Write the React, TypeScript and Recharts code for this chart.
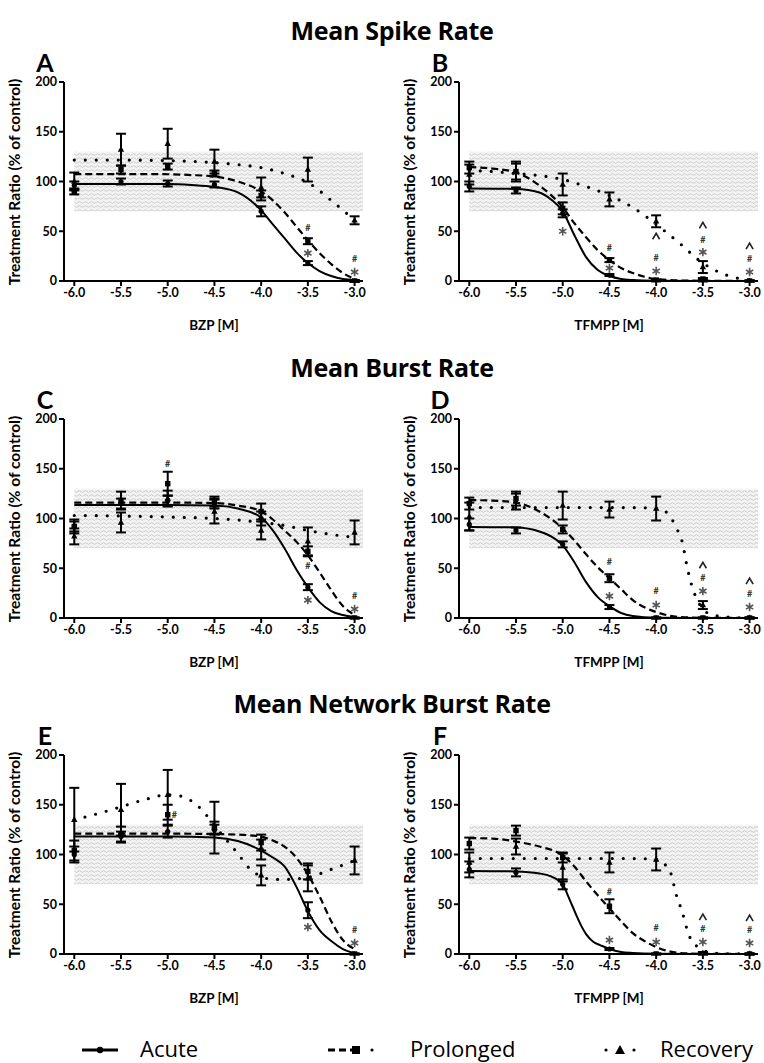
import React from 'react';
import { ComposedChart, Line, Scatter, XAxis, YAxis, ErrorBar, ReferenceArea } from 'recharts';

const doses = [-6, -5.5, -5, -4.5, -4, -3.5, -3];
const xTicks = [-6, -5.5, -5, -4.5, -4, -3.5, -3];
const yTicks = [0, 50, 100, 150, 200];
const titles = ['Mean Spike Rate', 'Mean Burst Rate', 'Mean Network Burst Rate'];
const letters = ['A', 'B', 'C', 'D', 'E', 'F'];
const xLabels = ['BZP [M]', 'TFMPP [M]'];
const legendNames = ['Acute', 'Prolonged', 'Recovery'];

// ---------- Panel A (BZP, spike rate) ----------
const aAcuteMean = [96, 100, 98, 97, 70, 18, 0];
const aAcuteSem = [4, 3, 3, 3, 5, 2, 1];
const aProlMean = [90, 112, 115, 108, 86, 40, 0];
const aProlSem = [3, 4, 3, 3, 5, 3, 1];
const aRecMean = [100, 132, 138, 120, 94, 112, 61];
const aRecSem = [9, 16, 15, 12, 10, 12, 4];
const aFitX = [-6, -5.5, -5, -4.75, -4.5, -4.25, -4, -3.875, -3.75, -3.625, -3.5, -3.375, -3.25, -3.125, -3];
const aAcuteFit = [97.5, 97.5, 97.4, 96.5, 94.5, 89, 71, 57, 43, 29, 18, 10, 5, 2, 1];
const aProlFit = [107.5, 107.5, 107.3, 106.5, 105, 100, 90, 81, 69, 55, 41, 28, 17, 8, 2];
const aRecFitX = [-6, -5.5, -5, -4.5, -4.25, -4, -3.75, -3.5, -3.25, -3];
const aRecFit = [121.5, 121.5, 121, 119, 117, 114, 108, 99, 81, 61];
const aNoteX = [-3.5, -3.5, -3, -3];
const aNoteY = [53, 28, 22, 9];
const aNoteS = ['#', '*', '#', '*'];

// ---------- Panel B (TFMPP, spike rate) ----------
const bAcuteMean = [95, 91, 68, 6, 0, 0, 0];
const bAcuteSem = [5, 3, 4, 1, 0.5, 0.5, 0.5];
const bProlMean = [114, 110, 73, 21, 1, 2, 0];
const bProlSem = [6, 10, 6, 2, 0.5, 1, 0.5];
const bRecMean = [107, 110, 97, 82, 60, 14, 0];
const bRecSem = [10, 8, 11, 7, 6, 6, 0.5];
const bAcuteFitX = [-6, -5.5, -5.25, -5.125, -5, -4.875, -4.75, -4.625, -4.5, -4.375, -4.25, -4, -3.5, -3];
const bAcuteFit = [93, 92.5, 89, 82, 70, 46, 24, 11, 5, 2, 1, 0.3, 0, 0];
const bProlFitX = [-6, -5.75, -5.5, -5.25, -5, -4.875, -4.75, -4.625, -4.5, -4.375, -4.25, -4, -3.75, -3.5, -3];
const bProlFit = [114.5, 113, 109, 96, 74, 58, 44, 31, 21, 13, 8, 2, 0.5, 0.2, 0];
const bRecFitX = [-6, -5.75, -5.5, -5.25, -5, -4.75, -4.5, -4.25, -4, -3.75, -3.5, -3.25, -3];
const bRecFit = [111, 110, 108, 106, 102, 95, 86, 74, 57, 38, 18, 6, 1];
const bNoteX = [-5, -4.5, -4.5, -4, -4, -4, -3.5, -3.5, -3.5, -3, -3, -3];
const bNoteY = [50, 33, 13, 45, 23, 10, 56, 41, 29, 35, 22, 9];
const bNoteS = ['*', '#', '*', '^', '#', '*', '^', '#', '*', '^', '#', '*'];

// ---------- Panel C (BZP, burst rate) ----------
const cAcuteMean = [92, 115, 118, 115, 100, 31, 0];
const cAcuteSem = [5, 5, 5, 5, 7, 3, 0.5];
const cProlMean = [92, 118, 135, 117, 107, 67, 0];
const cProlSem = [7, 9, 12, 5, 8, 5, 0.5];
const cRecMean = [82, 96, 120, 107, 88, 77, 86];
const cRecSem = [8, 10, 8, 12, 9, 14, 12];
const cFitX = [-6, -5, -4.5, -4.25, -4, -3.875, -3.75, -3.625, -3.5, -3.375, -3.25, -3.125, -3];
const cAcuteFit = [113.5, 113.5, 113, 110, 101, 88, 70, 49, 31, 16, 7, 3, 1];
const cProlFit = [116, 116, 115.5, 113, 107, 99, 88, 77, 63, 46, 28, 12, 3];
const cRecFitX = [-6, -5.5, -5, -4.5, -4.25, -4, -3.75, -3.5, -3.25, -3];
const cRecFit = [103, 102.5, 101.5, 100, 98.5, 96, 93, 88, 84, 81];
const cNoteX = [-5, -3.5, -3.5, -3, -3];
const cNoteY = [155, 52, 18, 22, 9];
const cNoteS = ['#', '#', '*', '#', '*'];

// ---------- Panel D (TFMPP, burst rate) ----------
const dAcuteMean = [94, 88, 74, 11, 0, 0, 0];
const dAcuteSem = [6, 3, 3, 2, 0.5, 0.5, 0.5];
const dProlMean = [115, 120, 89, 40, 0, 0, 0];
const dProlSem = [6, 7, 4, 4, 0.5, 0.5, 0.5];
const dRecMean = [102, 117, 113, 109, 110, 13, 0];
const dRecSem = [14, 8, 14, 8, 12, 4, 0.5];
const dAcuteFitX = [-6, -5.5, -5.25, -5.125, -5, -4.875, -4.75, -4.625, -4.5, -4.375, -4.25, -4, -3.5, -3];
const dAcuteFit = [91.5, 91, 87, 82, 73, 56, 36, 21, 12, 5, 2, 0.3, 0, 0];
const dProlFitX = [-6, -5.75, -5.5, -5.25, -5, -4.875, -4.75, -4.625, -4.5, -4.375, -4.25, -4, -3.75, -3.5, -3];
const dProlFit = [118.5, 118, 116, 107, 90, 78, 64, 51, 40, 29, 18, 6, 1, 0.2, 0];
const dRecFitX = [-6, -5, -4.5, -4, -3.9, -3.83, -3.78, -3.72, -3.67, -3.62, -3.56, -3.49, -3.39, -3.25, -3];
const dRecFit = [111, 111, 111, 110.5, 107, 99, 90, 76, 52, 33, 18, 8, 3, 1, 0];
const dNoteX = [-4.5, -4.5, -4, -4, -3.5, -3.5, -3.5, -3, -3, -3];
const dNoteY = [56, 22, 27, 13, 53, 40, 27, 37, 24, 11];
const dNoteS = ['#', '*', '#', '*', '^', '#', '*', '^', '#', '*'];

// ---------- Panel E (BZP, network burst rate) ----------
const eAcuteMean = [100, 118, 123, 125, 105, 44, 0];
const eAcuteSem = [8, 5, 6, 5, 10, 8, 0.5];
const eProlMean = [104, 120, 140, 127, 112, 83, 0];
const eProlSem = [10, 8, 10, 6, 8, 8, 0.5];
const eRecMean = [135, 145, 160, 127, 79, 76, 94];
const eRecSem = [32, 26, 25, 26, 10, 13, 14];
const eFitX = [-6, -5, -4.5, -4.25, -4, -3.875, -3.75, -3.625, -3.5, -3.375, -3.25, -3.125, -3];
const eAcuteFit = [118, 118, 117, 113.5, 104, 97, 88, 68, 43, 24, 13, 5, 1];
const eProlFit = [121, 121, 120.5, 120, 118, 114, 108, 97, 80, 58, 33, 14, 5];
const eRecFitX = [-6, -5.75, -5.5, -5.25, -5, -4.875, -4.75, -4.625, -4.5, -4.375, -4.25, -4.125, -4, -3.875, -3.75, -3.5, -3.25, -3];
const eRecFit = [135, 141, 148, 155, 160, 159, 154, 144, 129, 115, 101, 86, 78, 75, 75, 77, 85, 94];
const eNoteX = [-4.93, -3.5, -3, -3];
const eNoteY = [140, 27, 24, 11];
const eNoteS = ['#', '*', '#', '*'];

// ---------- Panel F (TFMPP, network burst rate) ----------
const fAcuteMean = [85, 82, 70, 5, 0, 0, 0];
const fAcuteSem = [8, 4, 5, 1, 0.5, 0.5, 0.5];
const fProlMean = [111, 124, 97, 48, 0, 0, 0];
const fProlSem = [6, 5, 5, 7, 0.5, 0.5, 0.5];
const fRecMean = [92, 108, 87, 92, 95, 1, 0];
const fRecSem = [10, 8, 14, 10, 11, 1, 0.5];
const fAcuteFitX = [-6, -5.5, -5.25, -5.125, -5, -4.95, -4.9, -4.85, -4.8, -4.75, -4.67, -4.6, -4.5, -4.375, -4.25, -4, -3.5, -3];
const fAcuteFit = [83.5, 83, 81, 78, 70, 60, 49, 38, 28, 20, 12, 9, 5, 2, 1, 0.2, 0, 0];
const fProlFitX = [-6, -5.75, -5.5, -5.25, -5, -4.875, -4.75, -4.625, -4.5, -4.375, -4.25, -4.125, -4, -3.875, -3.75, -3.5, -3];
const fProlFit = [116.5, 116, 113, 108, 99, 88, 73, 59, 46, 33, 21, 13, 7, 3, 1, 0.2, 0];
const fRecFitX = [-6, -5, -4.5, -4, -3.92, -3.85, -3.78, -3.72, -3.67, -3.62, -3.55, -3.5, -3.4, -3.25, -3];
const fRecFit = [96, 96, 96, 95.5, 91, 83, 58, 42, 25, 13, 7, 4, 1, 0.2, 0];
const fNoteX = [-4.5, -4.5, -4, -4, -3.5, -3.5, -3.5, -3, -3, -3];
const fNoteY = [63, 14, 26, 12, 37, 25, 12, 36, 24, 11];
const fNoteS = ['#', '*', '#', '*', '^', '#', '*', '^', '#', '*'];

const FONT = 'Lato, "Open Sans", sans-serif';
const WIDE = '"Open Sans", Lato, sans-serif';

const pts = (xs: number[], ys: number[]) => xs.map((x, i) => ({ x, y: ys[i] }));
const withErr = (means: number[], sems: number[]) => doses.map((x, i) => ({ x, y: means[i], e: sems[i] }));
const notes = (xs: number[], ys: number[], ss: string[]) => xs.map((x, i) => ({ x, y: ys[i], s: ss[i] }));

const CircleShape = (p: any) =>
  p.cx == null ? <g /> : <circle cx={p.cx} cy={p.cy} r={2.6} fill="#000" />;
const SquareShape = (p: any) =>
  p.cx == null ? <g /> : <rect x={p.cx - 2.7} y={p.cy - 2.7} width={5.4} height={5.4} fill="#000" />;
const TriShape = (p: any) =>
  p.cx == null ? <g /> : (
    <path d={`M${p.cx},${p.cy - 3.6} L${p.cx + 3.2},${p.cy + 2.2} L${p.cx - 3.2},${p.cy + 2.2} Z`} fill="#000" />
  );
const NoteShape = (p: any) => {
  if (p.cx == null) return <g />;
  const s = p.payload?.s;
  const cx = p.cx;
  const cy = p.cy;
  if (s === '*') {
    const r = 4.2;
    const arms = [90, 30, -30].map((deg) => {
      const a = (deg * Math.PI) / 180;
      return `M${cx - r * Math.cos(a)},${cy - r * Math.sin(a)} L${cx + r * Math.cos(a)},${cy + r * Math.sin(a)}`;
    });
    return <path d={arms.join(' ')} stroke="#555" strokeWidth={1.6} fill="none" />;
  }
  if (s === '^') {
    return (
      <path d={`M${cx - 3.5},${cy + 3} L${cx},${cy - 3} L${cx + 3.5},${cy + 3}`} stroke="#222" strokeWidth={1.6} fill="none" />
    );
  }
  return (
    <text x={cx} y={cy + 3.2} textAnchor="middle" fontSize={9} fontWeight={700} fill="#333" fontFamily={FONT}>
      {s}
    </text>
  );
};

const CHART_W = 368;
const CHART_H = 239;
const tickStyle = { fill: '#000', fontSize: 12.5, fontWeight: 700, fontFamily: FONT };

type PanelProps = {
  id: string;
  left: number;
  plotTop: number;
  letter: string;
  xLabel: string;
  acute: any[];
  prol: any[];
  rec: any[];
  acuteFit: any[];
  prolFit: any[];
  recFit: any[];
  marks: any[];
};

function Panel(props: PanelProps) {
  const { id, left, plotTop, letter, xLabel, acute, prol, rec, acuteFit, prolFit, recFit, marks } = props;
  const plotLeft = left + 64;
  return (
    <>
      <div style={{ position: 'absolute', left, top: plotTop - 10 }}>
        <ComposedChart width={CHART_W} height={CHART_H} margin={{ top: 10, right: 5, bottom: 0, left: 20 }}>
          <defs>
            <pattern id={`hatch${id}`} width="6" height="4" patternUnits="userSpaceOnUse">
              <rect width="6" height="4" fill="#f3f3f3" />
              <path d="M0 2.5 Q1.5 0.8 3 2.5 T6 2.5" stroke="#c6c6c6" strokeWidth="0.9" fill="none" />
            </pattern>
          </defs>
          <XAxis
            type="number"
            dataKey="x"
            domain={[-6.11, -2.91]}
            ticks={xTicks}
            allowDataOverflow
            tickFormatter={(v: number) => v.toFixed(1)}
            tick={tickStyle}
            tickSize={5}
            tickMargin={2}
            axisLine={{ stroke: '#000', strokeWidth: 2 }}
            tickLine={{ stroke: '#000', strokeWidth: 2 }}
            height={30}
            interval={0}
          />
          <YAxis
            type="number"
            dataKey="y"
            domain={[0, 200]}
            ticks={yTicks}
            allowDataOverflow
            tick={tickStyle}
            tickSize={5}
            tickMargin={2}
            axisLine={{ stroke: '#000', strokeWidth: 2 }}
            tickLine={{ stroke: '#000', strokeWidth: 2 }}
            width={44}
            interval={0}
          />
          <ReferenceArea
            x1={-6}
            x2={-2.91}
            y1={70}
            y2={130}
            fill={`url(#hatch${id})`}
            fillOpacity={1}
            stroke="none"
            ifOverflow="visible"
          />
          <Line data={recFit} dataKey="y" type="monotone" stroke="#000" strokeWidth={3.2} strokeDasharray="0 11" strokeLinecap="round" dot={false} activeDot={false} isAnimationActive={false} />
          <Line data={prolFit} dataKey="y" type="monotone" stroke="#000" strokeWidth={2.2} strokeDasharray="7 4" dot={false} activeDot={false} isAnimationActive={false} />
          <Line data={acuteFit} dataKey="y" type="monotone" stroke="#000" strokeWidth={2} dot={false} activeDot={false} isAnimationActive={false} />
          <Scatter data={rec} dataKey="y" shape={TriShape} isAnimationActive={false}>
            <ErrorBar dataKey="e" direction="y" width={5} strokeWidth={2} stroke="#000" />
          </Scatter>
          <Scatter data={prol} dataKey="y" shape={SquareShape} isAnimationActive={false}>
            <ErrorBar dataKey="e" direction="y" width={5} strokeWidth={2} stroke="#000" />
          </Scatter>
          <Scatter data={acute} dataKey="y" shape={CircleShape} isAnimationActive={false}>
            <ErrorBar dataKey="e" direction="y" width={5} strokeWidth={2} stroke="#000" />
          </Scatter>
          <Scatter data={marks} dataKey="y" shape={NoteShape} isAnimationActive={false} />
        </ComposedChart>
      </div>
      <div
        style={{
          position: 'absolute',
          left: left + 15,
          top: plotTop + 100,
          transform: 'translate(-50%, -50%) rotate(-90deg)',
          whiteSpace: 'nowrap',
          fontFamily: FONT,
          fontWeight: 700,
          fontSize: 15.5,
          lineHeight: 1,
        }}
      >
        Treatment Ratio (% of control)
      </div>
      <div
        style={{
          position: 'absolute',
          left: plotLeft + 150,
          top: plotTop + 244,
          transform: 'translate(-50%, -50%)',
          whiteSpace: 'nowrap',
          fontFamily: FONT,
          fontWeight: 700,
          fontSize: 13.5,
          lineHeight: 1,
        }}
      >
        {xLabel}
      </div>
      <div
        style={{
          position: 'absolute',
          left: left + 45,
          top: plotTop - 20,
          transform: 'translate(-50%, -50%)',
          fontFamily: FONT,
          fontWeight: 700,
          fontSize: 25,
          lineHeight: 1,
        }}
      >
        {letter}
      </div>
    </>
  );
}

const rowTops = [82, 419, 755];
const colLefts = [0, 395];

export default function App() {
  const panels = [
    { acute: withErr(aAcuteMean, aAcuteSem), prol: withErr(aProlMean, aProlSem), rec: withErr(aRecMean, aRecSem), acuteFit: pts(aFitX, aAcuteFit), prolFit: pts(aFitX, aProlFit), recFit: pts(aRecFitX, aRecFit), marks: notes(aNoteX, aNoteY, aNoteS) },
    { acute: withErr(bAcuteMean, bAcuteSem), prol: withErr(bProlMean, bProlSem), rec: withErr(bRecMean, bRecSem), acuteFit: pts(bAcuteFitX, bAcuteFit), prolFit: pts(bProlFitX, bProlFit), recFit: pts(bRecFitX, bRecFit), marks: notes(bNoteX, bNoteY, bNoteS) },
    { acute: withErr(cAcuteMean, cAcuteSem), prol: withErr(cProlMean, cProlSem), rec: withErr(cRecMean, cRecSem), acuteFit: pts(cFitX, cAcuteFit), prolFit: pts(cFitX, cProlFit), recFit: pts(cRecFitX, cRecFit), marks: notes(cNoteX, cNoteY, cNoteS) },
    { acute: withErr(dAcuteMean, dAcuteSem), prol: withErr(dProlMean, dProlSem), rec: withErr(dRecMean, dRecSem), acuteFit: pts(dAcuteFitX, dAcuteFit), prolFit: pts(dProlFitX, dProlFit), recFit: pts(dRecFitX, dRecFit), marks: notes(dNoteX, dNoteY, dNoteS) },
    { acute: withErr(eAcuteMean, eAcuteSem), prol: withErr(eProlMean, eProlSem), rec: withErr(eRecMean, eRecSem), acuteFit: pts(eFitX, eAcuteFit), prolFit: pts(eFitX, eProlFit), recFit: pts(eRecFitX, eRecFit), marks: notes(eNoteX, eNoteY, eNoteS) },
    { acute: withErr(fAcuteMean, fAcuteSem), prol: withErr(fProlMean, fProlSem), rec: withErr(fRecMean, fRecSem), acuteFit: pts(fAcuteFitX, fAcuteFit), prolFit: pts(fProlFitX, fProlFit), recFit: pts(fRecFitX, fRecFit), marks: notes(fNoteX, fNoteY, fNoteS) },
  ];

  return (
    <div style={{ position: 'absolute', left: 0, top: 0, width: 764, height: 1063, background: '#fff', overflow: 'hidden' }}>
      {titles.map((t, r) => (
        <div
          key={t}
          style={{
            position: 'absolute',
            left: 392,
            top: rowTops[r] - 52,
            transform: 'translate(-50%, -50%)',
            whiteSpace: 'nowrap',
            fontFamily: WIDE,
            fontWeight: 700,
            fontSize: 25,
            lineHeight: 1,
            letterSpacing: -0.3,
          }}
        >
          {t}
        </div>
      ))}
      {panels.map((p, i) => (
        <Panel
          key={i}
          id={letters[i]}
          left={colLefts[i % 2]}
          plotTop={rowTops[Math.floor(i / 2)]}
          letter={letters[i]}
          xLabel={xLabels[i % 2]}
          {...p}
        />
      ))}
      <svg style={{ position: 'absolute', left: 0, top: 1030 }} width={764} height={33}>
        <line x1={82} y1={20} x2={118} y2={20} stroke="#000" strokeWidth={3} />
        <circle cx={100} cy={20} r={3.2} fill="#000" />
        <text x={140} y={27} fontSize={22} fontFamily={WIDE} fill="#000">{legendNames[0]}</text>
        <line x1={328} y1={20} x2={356} y2={20} stroke="#000" strokeWidth={3} strokeDasharray="7 4" />
        <rect x={352} y={16} width={8} height={8} fill="#000" />
        <circle cx={372} cy={20} r={1.6} fill="#000" />
        <text x={410} y={27} fontSize={22} fontFamily={WIDE} fill="#000">{legendNames[1]}</text>
        <circle cx={606} cy={20} r={1.6} fill="#000" />
        <path d="M620,15 L625,24 L615,24 Z" fill="#000" />
        <circle cx={634} cy={20} r={1.6} fill="#000" />
        <text x={660} y={27} fontSize={22} fontFamily={WIDE} fill="#000">{legendNames[2]}</text>
      </svg>
    </div>
  );
}
